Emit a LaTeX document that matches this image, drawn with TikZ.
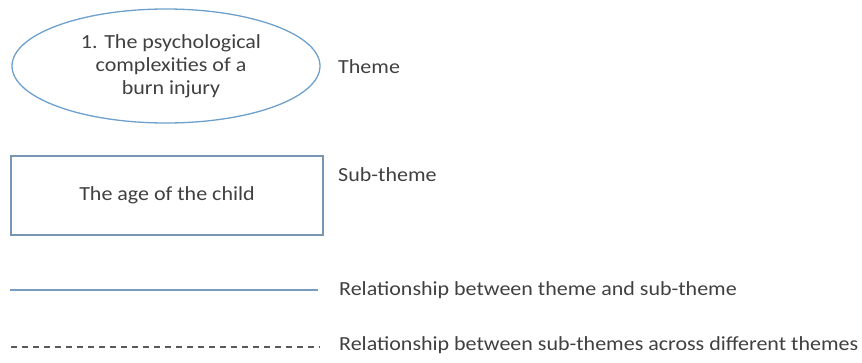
\documentclass[tikz,border=0pt]{standalone}
\usepackage{fontspec}
\setmainfont{Carlito}[FakeStretch=1.1]
\usetikzlibrary{shapes.geometric}
\definecolor{themeblue}{RGB}{110,160,205}
\definecolor{boxblue}{RGB}{120,150,180}
\definecolor{linkblue}{RGB}{120,155,190}
\definecolor{txt}{RGB}{64,64,64}
\tikzset{
  lbl/.style={anchor=west, inner sep=0pt, text=txt, font=\fontsize{20pt}{23pt}\selectfont},
  themenode/.style={ellipse, draw=themeblue, line width=1.3pt, minimum width=308pt, minimum height=114pt,
    inner sep=0pt, align=center, text=txt, font=\fontsize{20pt}{23pt}\selectfont},
  subnode/.style={rectangle, draw=boxblue, line width=1.3pt, minimum width=312pt, minimum height=79pt,
    inner sep=0pt, text=txt, font=\fontsize{20pt}{23pt}\selectfont},
  themelink/.style={draw=linkblue, line width=1.3pt},
  crosslink/.style={draw=black!65, line width=2pt, dash pattern=on 6pt off 5pt}
}
\begin{document}
\begin{tikzpicture}[x=1pt, y=-1pt]
  \path[use as bounding box] (0,0) rectangle (862,362);
  % theme example
  \node[themenode] (theme) at (166,66) {\hspace*{10pt}1. The psychological\\\hspace*{10pt}complexities of a\\\hspace*{10pt}burn injury};
  \node[lbl] (themelbl) at (338,67) {Theme};
  % sub-theme example
  \node[subnode] (sub) at (167,195.5) {The age of the child};
  \node[lbl] (sublbl) at (338,175) {Sub-theme};
  % relationship between theme and sub-theme
  \coordinate (a1) at (10,290);
  \coordinate (a2) at (318,290);
  \draw[themelink] (a1) -- (a2);
  \node[lbl] (alb) at (339,290) {Relationship between theme and sub-theme};
  % relationship across themes
  \coordinate (b1) at (11,347);
  \coordinate (b2) at (320,347);
  \draw[crosslink] (b1) -- (b2);
  \node[lbl] (blb) at (339,345) {Relationship between sub-themes across different themes};
\end{tikzpicture}
\end{document}
